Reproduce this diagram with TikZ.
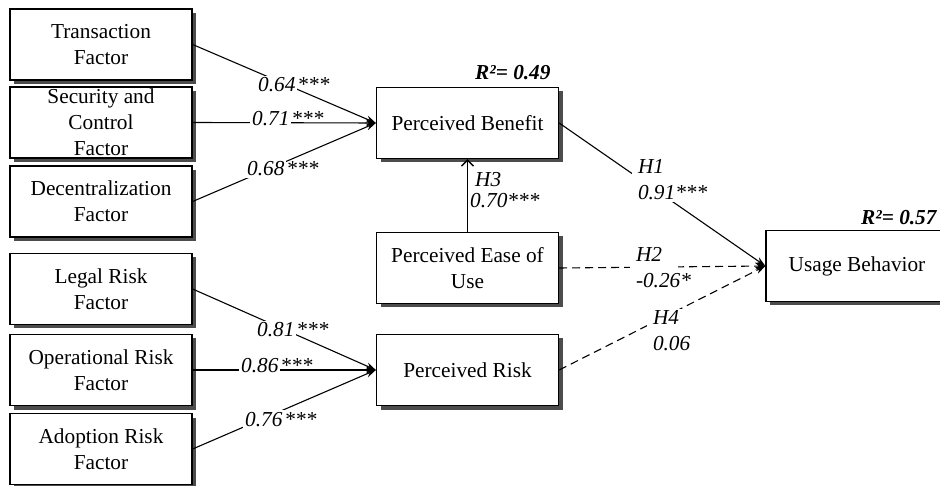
\documentclass[tikz,border=0pt]{standalone}
\usepackage{fontspec}
\setmainfont{Liberation Serif}
\usetikzlibrary{arrows.meta,shadows}
\setlength{\fboxsep}{2pt}

\begin{document}
\begin{tikzpicture}
[x=1pt,y=-1pt,%
  box/.style={draw,line width=1.3pt,fill=white,minimum width=182pt,minimum height=71pt,
    inner sep=0pt,align=center,
    drop shadow={shadow xshift=4pt,shadow yshift=-4pt,fill=black!70,opacity=1}},%
  link/.style={line width=1.1pt,-{Stealth[length=10pt,width=7pt]}},%
  dlink/.style={link,dash pattern=on 8pt off 5pt},%
  coef/.style={inner sep=0pt,font=\itshape,anchor=base west},%
  hyp/.style={fill=white,text width=36pt,inner xsep=6pt,inner ysep=2pt,align=left,font=\itshape},%
  rsq/.style={inner sep=0pt,font=\bfseries\itshape,anchor=base west}]
\fontsize{21.3}{26}\selectfont
\useasboundingbox (0,0) rectangle (940,486);
% benefit factors
\node[box] (tf)  at (101,44.5)  {Transaction\\Factor};
\node[box] (scf) at (101,122.5) {Security and\\Control\\Factor};
\node[box] (dcf) at (101,201.5) {Decentralization\\Factor};
% risk factors
\node[box] (lrf) at (101,289) {Legal Risk\\Factor};
\node[box] (orf) at (101,370) {Operational Risk\\Factor};
\node[box] (arf) at (101,449) {Adoption Risk\\Factor};
% perceptions
\node[box] (pb)   at (467.5,123) {Perceived Benefit};
\node[box] (peou) at (467.5,268) {Perceived Ease of\\Use};
\node[box] (pr)   at (467.5,370) {Perceived Risk};
% outcome
\node[box] (ub) at (857,266) {Usage Behavior};

\draw[link] (tf.east)  -- (pb.west);
\draw[link] (scf.east) -- (pb.west);
\draw[link] (dcf.east) -- (pb.west);
\draw[link] (lrf.east) -- (pr.west);
\draw[link] (orf.east) -- (pr.west);
\draw[link] (arf.east) -- (pr.west);
\draw[line width=1.1pt,-{Straight Barb[length=6pt,width=12pt,line width=1.4pt]}] (peou.north) -- (pb.south);
\draw[link]  (pb.east)   -- (ub.west);
\draw[dlink] (peou.east) -- (ub.west);
\draw[dlink] (pr.east)   -- (ub.west);

% path coefficients
\node[coef] (c1) at (256,92)  {\colorbox{white}{0.64}***};
\node[coef] (c2) at (250,126) {\colorbox{white}{0.71}***};
\node[coef] (c3) at (245,176) {\colorbox{white}{0.68}***};
\node[coef] (c4) at (255,337) {\colorbox{white}{0.81}***};
\node[coef] (c5) at (239,373) {\colorbox{white}{0.86}***};
\node[coef] (c6) at (243,426) {\colorbox{white}{0.76}***};
\node[coef,anchor=north west,align=left] (h3) at (470,172) {\hspace{5pt}H3\\[-5pt]0.70***};
\node[hyp] (h1) at (656,180) {H1\\0.91***};
\node[hyp] (h2) at (654,268) {H2\\\mbox{-0.26*}};
\node[hyp] (h4) at (671,331) {H4\\0.06};
\node[rsq] (r1) at (475,80)  {R²= 0.49};
\node[rsq] (r2) at (861,225) {R²= 0.57};
\end{tikzpicture}
\end{document}
